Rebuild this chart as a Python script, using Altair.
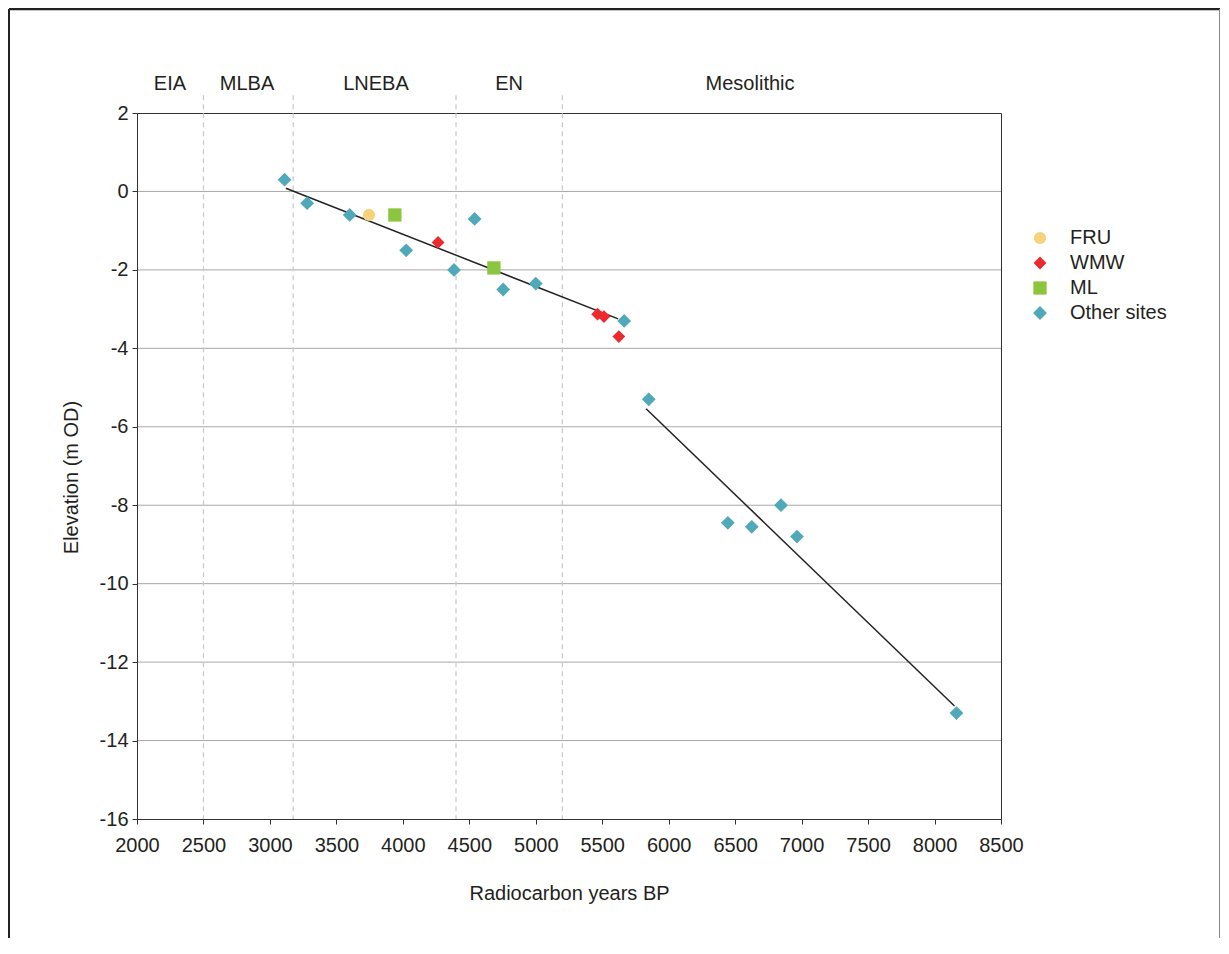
import altair as alt
import pandas as pd

# ---------------- data ----------------
series_order = ["FRU", "WMW", "ML", "Other sites"]
series_colors = ["#F6D27B", "#EC2A2D", "#8CC63F", "#4FA9B8"]
series_shapes = ["circle", "diamond", "square", "diamond"]
series_sizes = [150, 190, 150, 190]

other_years = [3110, 3280, 3600, 4025, 4385, 4540, 4755, 5000, 5665, 5850, 6445, 6625, 6845, 6965, 8165]
other_elev = [0.3, -0.3, -0.6, -1.5, -2.0, -0.7, -2.5, -2.35, -3.3, -5.3, -8.45, -8.55, -8.0, -8.8, -13.3]

fru_years = [3745]
fru_elev = [-0.6]

wmw_years = [4265, 5465, 5513, 5625]
wmw_elev = [-1.3, -3.13, -3.19, -3.7]

ml_years = [3940, 4685]
ml_elev = [-0.6, -1.95]

trend_group = ["upper", "upper", "lower", "lower"]
trend_years = [3120, 5620, 5830, 8150]
trend_elev = [0.08, -3.25, -5.54, -13.12]

period_labels = ["EIA", "MLBA", "LNEBA", "EN", "Mesolithic"]
period_centers = [2248, 2828, 3798, 4799, 6612]
period_boundaries = [2500, 3175, 4400, 5200]

x_ticks = list(range(2000, 8501, 500))
y_ticks = list(range(-16, 3, 2))
grid_values = list(range(-14, 1, 2))

# ---------------- tables ----------------
rows = []
for name, xs_, ys_ in [("Other sites", other_years, other_elev),
                       ("FRU", fru_years, fru_elev),
                       ("ML", ml_years, ml_elev),
                       ("WMW", wmw_years, wmw_elev)]:
    for a, b in zip(xs_, ys_):
        rows.append({"site": name, "year": a, "elev": b})
pts = pd.DataFrame(rows)

trend = pd.DataFrame({"grp": trend_group, "year": trend_years, "elev": trend_elev})
periods = pd.DataFrame({"label": period_labels, "year": period_centers, "elev": [2.73] * len(period_labels)})
bounds = pd.DataFrame({"year": period_boundaries, "elev": [2.45] * 4, "elev2": [-16] * 4})
grid = pd.DataFrame({"elev": grid_values})

FONT = "Liberation Sans"
TXT = "#231F20"
W, H = 864, 706
SVG_W, SVG_H = 1213, 930
PL, PT = 129, 105

xs = alt.Scale(domain=[2000, 8500], nice=False, zero=False)
ys = alt.Scale(domain=[-16, 2], nice=False, zero=False)

x_axis = alt.Axis(values=x_ticks, labelExpr="'' + datum.value", labelFontSize=20, labelFont=FONT,
                  labelColor=TXT, labelFlush=False, labelOverlap=False, labelPadding=11, tickSize=5,
                  tickColor="#333333", domainColor="#333333", grid=False, titleFontSize=20,
                  titleFont=FONT, titleColor=TXT, titleFontWeight="normal", titlePadding=28, zindex=2)
y_axis = alt.Axis(values=y_ticks, labelExpr="'' + datum.value", labelFontSize=20, labelFont=FONT,
                  labelColor=TXT, labelPadding=4, tickSize=5, tickColor="#333333",
                  domainColor="#333333", grid=False, titleFontSize=20, titleFont=FONT,
                  titleColor=TXT, titleFontWeight="normal", titleX=-66, titleY=364,
                  titleBaseline="middle", titleAlign="center", zindex=2)

X = alt.X("year:Q", scale=xs, axis=x_axis, title="Radiocarbon years BP")
Y = alt.Y("elev:Q", scale=ys, axis=y_axis, title="Elevation (m OD)")

one = pd.DataFrame({"k": [0]})
frame_top = alt.Chart(one).mark_rule(color="#222222", strokeWidth=2.5).encode(
    x=alt.value(1 - PL), x2=alt.value(SVG_W - 1 - PL), y=alt.value(1 - PT))
frame_left = alt.Chart(one).mark_rule(color="#222222", strokeWidth=2).encode(
    x=alt.value(1 - PL), y=alt.value(1 - PT), y2=alt.value(SVG_H - PT))
frame_right = alt.Chart(one).mark_rule(color="#888888", strokeWidth=1).encode(
    x=alt.value(SVG_W - 1.5 - PL), y=alt.value(1 - PT), y2=alt.value(SVG_H - PT))

gridlines = alt.Chart(grid).mark_rule(color="#a8a8a8", strokeWidth=1).encode(y=Y)

rules = alt.Chart(bounds).mark_rule(color="#c8c8c8", strokeWidth=1.2, strokeDash=[5, 4]).encode(
    x=X, y=Y, y2="elev2:Q",
)

labels = alt.Chart(periods).mark_text(fontSize=20, font=FONT, color=TXT, baseline="middle", align="center").encode(
    x=X, y=Y, text="label:N",
)

lines = alt.Chart(trend).mark_line(color="#222222", strokeWidth=1.5).encode(
    x=X, y=Y, detail="grp:N",
)

leg = dict(title=None, orient="none", legendX=893, legendY=115, labelFontSize=20, labelFont=FONT,
           labelColor=TXT, symbolSize=160, rowPadding=5, labelOffset=20, symbolStrokeWidth=0, padding=0)

points = alt.Chart(pts).mark_point(filled=True, opacity=1).encode(
    x=X, y=Y,
    color=alt.Color("site:N", scale=alt.Scale(domain=series_order, range=series_colors),
                    legend=alt.Legend(**leg)),
    shape=alt.Shape("site:N", scale=alt.Scale(domain=series_order, range=series_shapes),
                    legend=alt.Legend(**leg)),
    size=alt.Size("site:N", scale=alt.Scale(domain=series_order, range=series_sizes), legend=None),
)

chart = alt.layer(gridlines, rules, labels, lines, points, frame_top, frame_left, frame_right).properties(
    width=W, height=H,
    autosize=alt.AutoSizeParams(type="none"),
    padding={"left": PL, "top": PT, "right": SVG_W - PL - W, "bottom": SVG_H - PT - H},
    background="white",
).configure_view(stroke="#333333", strokeWidth=1)

chart.save("out.html", embed_options={"renderer": "svg", "actions": False})
